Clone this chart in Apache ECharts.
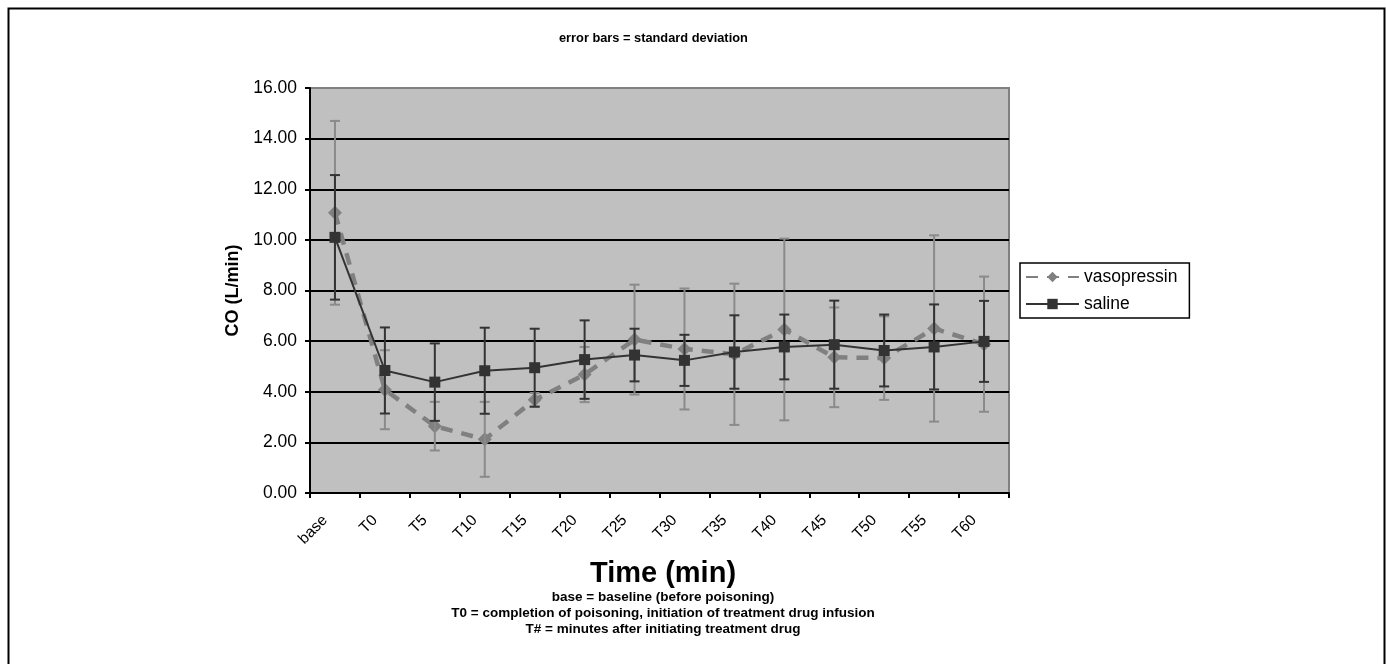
<!DOCTYPE html>
<html>
<head>
<meta charset="utf-8">
<script src="https://cdn.jsdelivr.net/npm/echarts@6/dist/echarts.min.js"></script>
<style>
html,body{margin:0;padding:0;background:#fff;}
#c{width:1386px;height:664px;}
</style>
</head>
<body>
<div id="c"></div>
<script>
var categories = ['base','T0','T5','T10','T15','T20','T25','T30','T35','T40','T45','T50','T55','T60'];
var vasoMean = [11.07,4.08,2.64,2.12,3.68,4.68,6.06,5.69,5.48,6.46,5.36,5.33,6.50,5.88];
var vasoSD   = [3.63,1.56,0.96,1.48,0.27,1.09,2.17,2.39,2.79,3.59,1.97,1.65,3.68,2.67];
var salMean  = [10.10,4.84,4.38,4.83,4.95,5.27,5.45,5.24,5.57,5.77,5.86,5.63,5.77,5.99];
var salSD    = [2.46,1.70,1.53,1.70,1.54,1.55,1.04,1.01,1.45,1.28,1.74,1.42,1.68,1.60];
var yTicks = [0,2,4,6,8,10,12,14,16];

var FONT = '"Liberation Sans", Arial, sans-serif';

function errData(mean, sd){
  return mean.map(function(m,i){ return [i, m - sd[i], m + sd[i]]; });
}
function errRender(color){
  return function(params, api){
    var x = api.value(0);
    var lo = api.coord([x, api.value(1)]);
    var hi = api.coord([x, api.value(2)]);
    var hw = 5;
    var st = {stroke: color, lineWidth: 2};
    return {type:'group', children:[
      {type:'line', shape:{x1:lo[0],y1:lo[1],x2:hi[0],y2:hi[1]}, style:st},
      {type:'line', shape:{x1:lo[0]-hw,y1:lo[1],x2:lo[0]+hw,y2:lo[1]}, style:st},
      {type:'line', shape:{x1:hi[0]-hw,y1:hi[1],x2:hi[0]+hw,y2:hi[1]}, style:st}
    ]};
  };
}

var splitColors = yTicks.map(function(v,i){ return i === yTicks.length-1 ? '#808080' : '#000000'; });

var chart = echarts.init(document.getElementById('c'), null, {renderer:'canvas'});
chart.setOption({
  animation:false,
  backgroundColor:'#ffffff',
  title:{
    text:'error bars = standard deviation',
    left:554, top:27,
    textStyle:{fontFamily:FONT, fontSize:12.8, fontWeight:'bold', color:'#000'}
  },
  grid:{left:310, right:377, top:88, bottom:171, show:true, backgroundColor:'#c0c0c0', borderColor:'#808080', borderWidth:2},
  legend:{
    orient:'vertical', left:1020, top:263,
    padding:[5,12,5,5], itemGap:9, itemWidth:53, itemHeight:13,
    borderColor:'#000', borderWidth:1.5, backgroundColor:'#fff',
    textStyle:{fontFamily:FONT, fontSize:17.5, color:'#000'},
    data:['vasopressin','saline']
  },
  xAxis:{
    type:'category', data:categories, boundaryGap:true,
    axisLine:{lineStyle:{color:'#000', width:2}},
    axisTick:{show:true, alignWithLabel:false, length:5, lineStyle:{color:'#000', width:2}},
    axisLabel:{rotate:45, margin:15, padding:[0,14,0,0], fontFamily:FONT, fontSize:15.5, color:'#000'},
    splitLine:{show:false}
  },
  yAxis:{
    type:'value', min:yTicks[0], max:yTicks[yTicks.length-1], interval:2,
    name:'CO (L/min)', nameLocation:'middle', nameGap:68,
    nameTextStyle:{fontFamily:FONT, fontSize:18, fontWeight:'bold', color:'#000'},
    axisLine:{show:true, lineStyle:{color:'#000', width:2}},
    axisTick:{show:true, length:5, lineStyle:{color:'#000', width:2}},
    axisLabel:{margin:13, fontFamily:FONT, fontSize:17.5, color:'#000', formatter:function(v){return v.toFixed(2);}},
    splitLine:{show:true, lineStyle:{color:splitColors, width:2}}
  },
  graphic:[
    {type:'rect', left:6, top:6, shape:{width:1376, height:700}, style:{fill:'none', stroke:'#000', lineWidth:2}, silent:true, z:-1},
    {type:'text', x:663, y:559, style:{text:'Time (min)', align:'center', fontFamily:FONT, fontSize:29, fontWeight:'bold', fill:'#000'}},
    {type:'text', x:663, y:590, style:{text:'base = baseline (before poisoning)', align:'center', fontFamily:FONT, fontSize:13.5, fontWeight:'bold', fill:'#000'}},
    {type:'text', x:663, y:606, style:{text:'T0 = completion of poisoning, initiation of treatment drug infusion', align:'center', fontFamily:FONT, fontSize:13.5, fontWeight:'bold', fill:'#000'}},
    {type:'text', x:663, y:622, style:{text:'T# = minutes after initiating treatment drug', align:'center', fontFamily:FONT, fontSize:13.5, fontWeight:'bold', fill:'#000'}}
  ],
  series:[
    {
      name:'vasopressin', type:'line', data:vasoMean,
      symbol:'diamond', symbolSize:14,
      lineStyle:{color:'#808080', width:4.5, type:[12,9]},
      itemStyle:{color:'#808080'}, z:2
    },
    {
      type:'custom', name:'vasoErr', data:errData(vasoMean, vasoSD),
      renderItem:errRender('#8a8a8a'), encode:{x:0, y:[1,2]}, z:3, silent:true
    },
    {
      type:'custom', name:'salErr', data:errData(salMean, salSD),
      renderItem:errRender('#333333'), encode:{x:0, y:[1,2]}, z:4, silent:true
    },
    {
      name:'saline', type:'line', data:salMean,
      symbol:'rect', symbolSize:11,
      lineStyle:{color:'#333333', width:2},
      itemStyle:{color:'#333333'}, z:5
    }
  ]
});
</script>
</body>
</html>
